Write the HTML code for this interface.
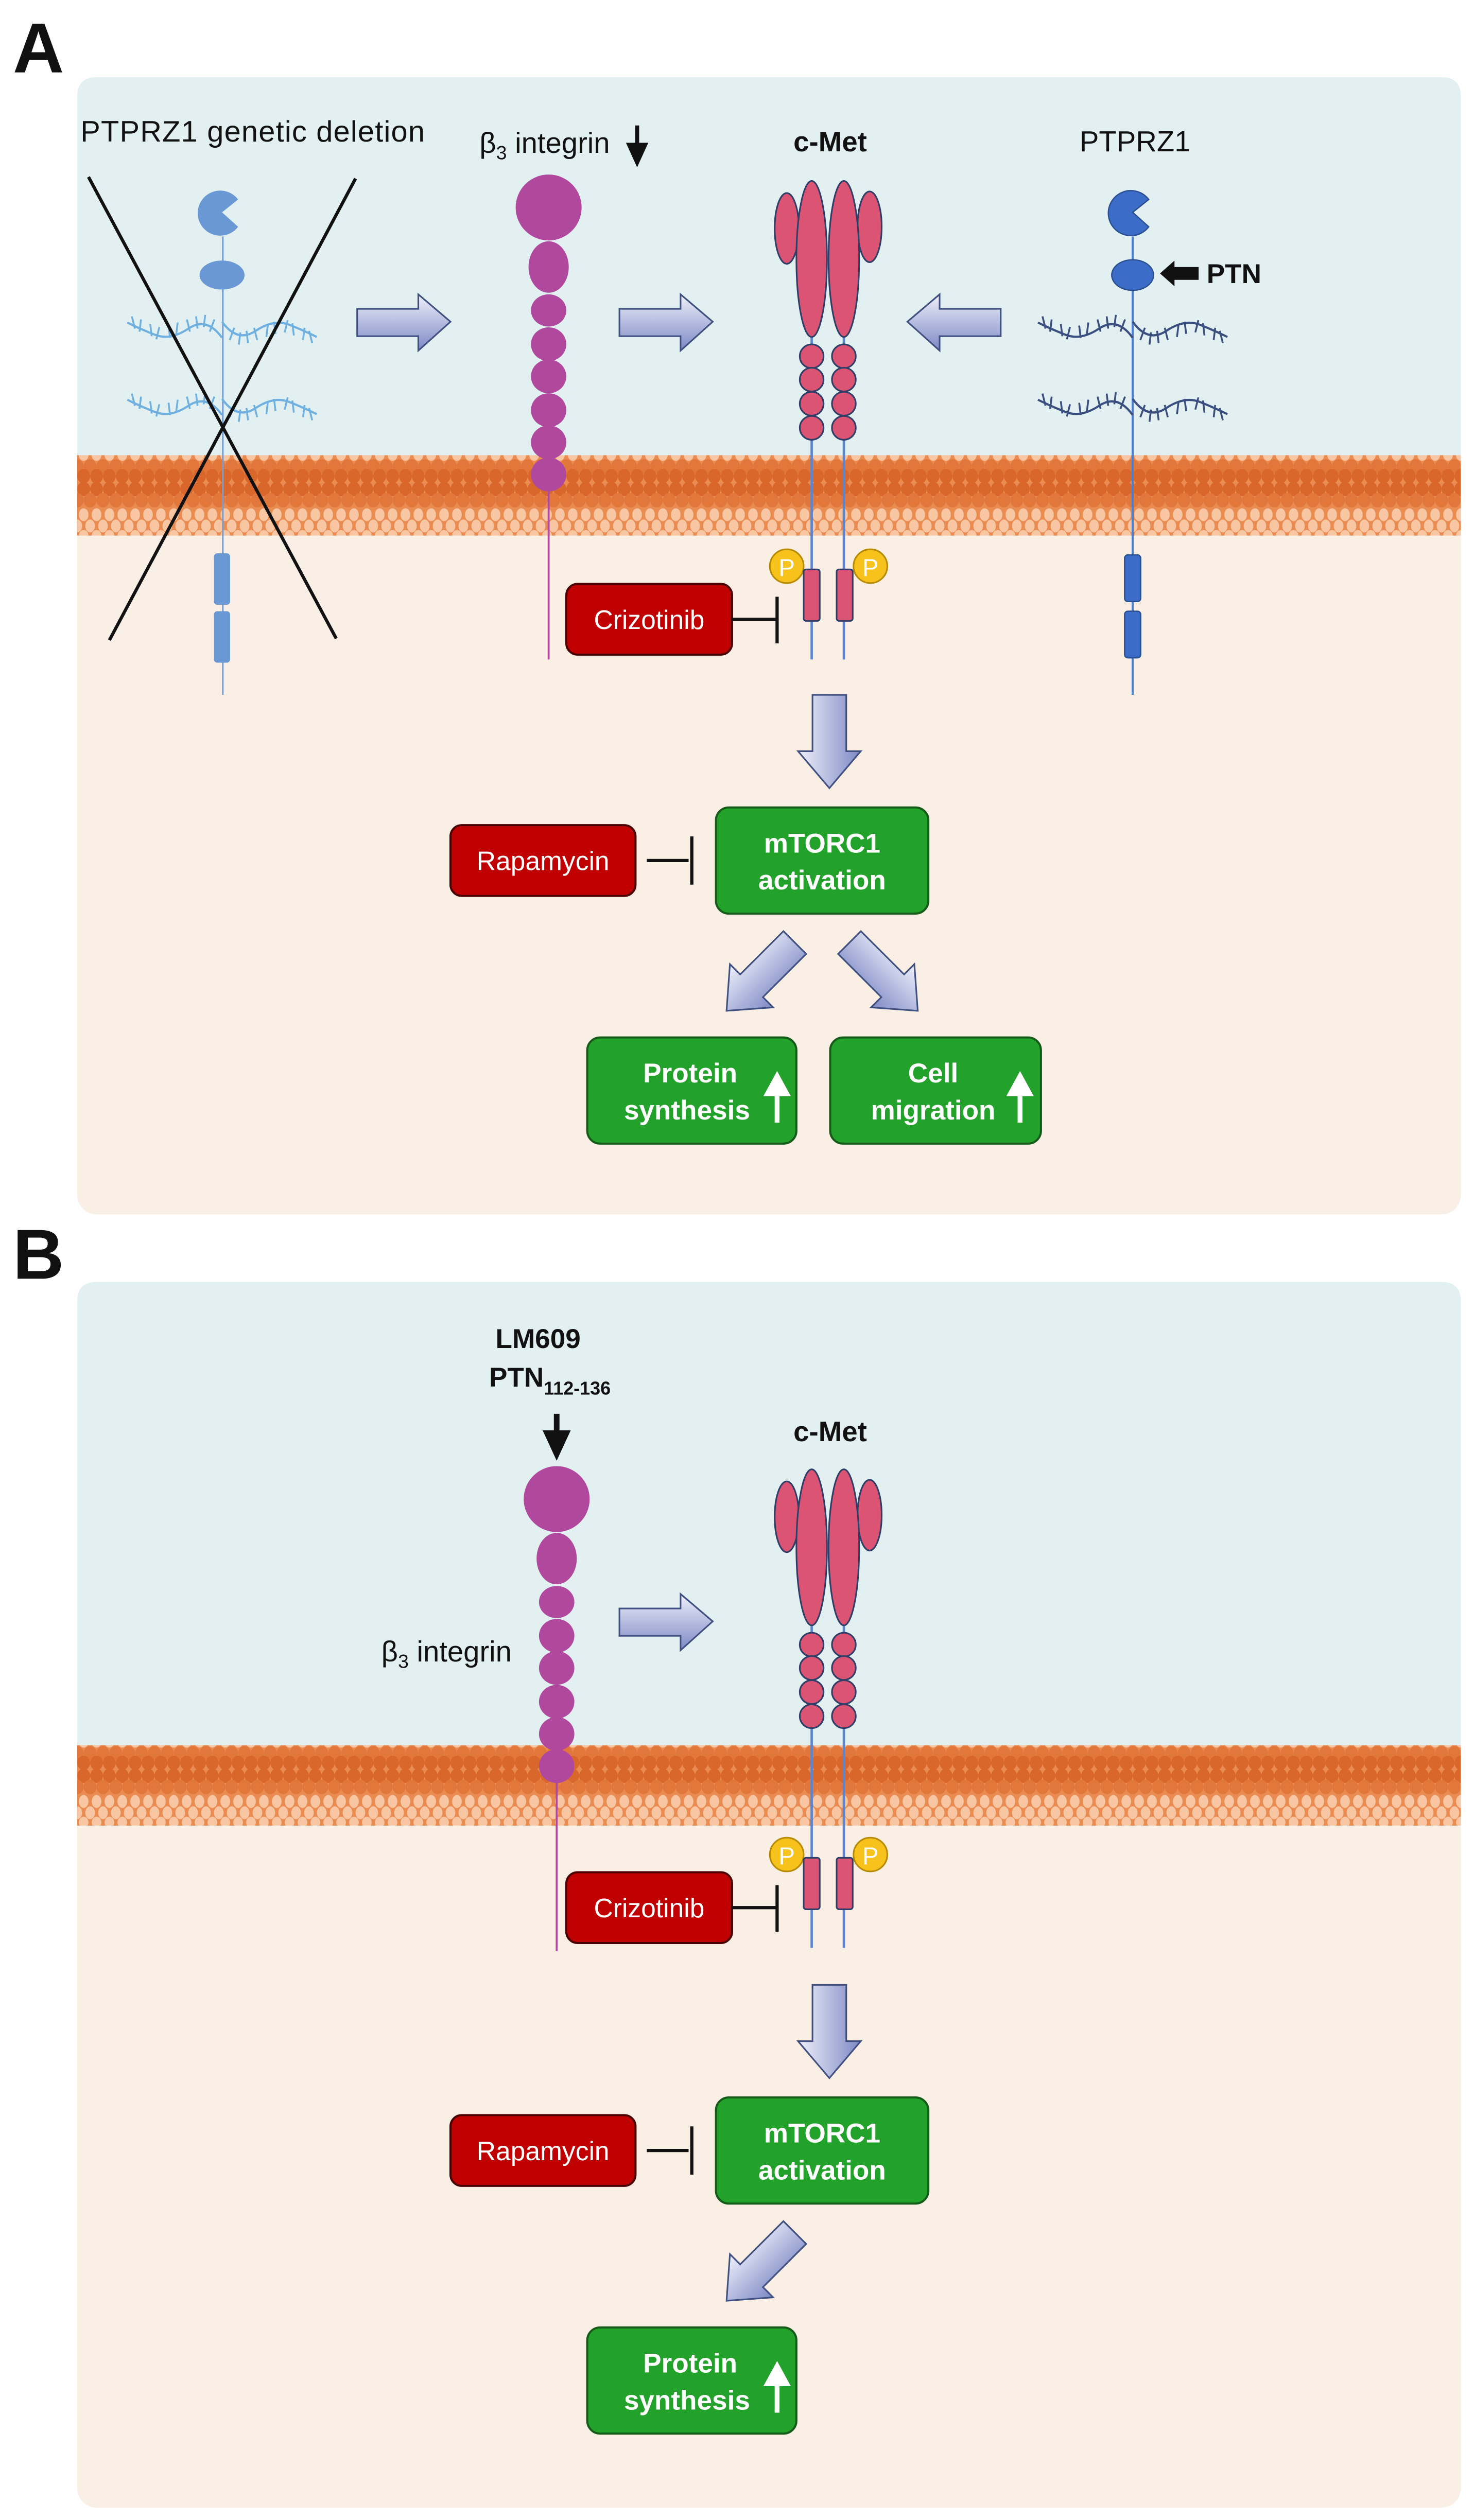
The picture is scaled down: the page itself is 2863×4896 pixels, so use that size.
<!DOCTYPE html>
<html><head><meta charset="utf-8"><style>
html,body{margin:0;padding:0;background:#fff}
svg{display:block}
text{font-family:"Liberation Sans",Arial,sans-serif}
</style></head><body>
<svg width="2863" height="4896" viewBox="0 0 916.16 1566.72" preserveAspectRatio="none" xmlns="http://www.w3.org/2000/svg">
<defs>
<linearGradient id="ag" x1="0" y1="0" x2="0" y2="1"><stop offset="0" stop-color="#eef0fb"/><stop offset="1" stop-color="#7d88c4"/></linearGradient>
<linearGradient id="aghr" x1="0" y1="0" x2="1" y2="0"><stop offset="0" stop-color="#eef0fb"/><stop offset="1" stop-color="#7d88c4"/></linearGradient>
<pattern id="mem" patternUnits="userSpaceOnUse" width="8" height="50">
<rect width="8" height="50" fill="#ea8c52"/>
<ellipse cx="4" cy="4" rx="4" ry="4.5" fill="#d9672c"/><ellipse cx="0" cy="11" rx="4" ry="4.5" fill="#e2773c"/><ellipse cx="8" cy="11" rx="4" ry="4.5" fill="#e2773c"/>
<ellipse cx="4" cy="20" rx="3" ry="4" fill="#f8c6a2"/><ellipse cx="0" cy="27" rx="3" ry="4" fill="#f8c6a2"/><ellipse cx="8" cy="27" rx="3" ry="4" fill="#f8c6a2"/><ellipse cx="4" cy="33" rx="3" ry="3.5" fill="#f8c6a2"/>
<ellipse cx="0" cy="40" rx="4" ry="4.5" fill="#e2773c"/><ellipse cx="8" cy="40" rx="4" ry="4.5" fill="#e2773c"/><ellipse cx="4" cy="46" rx="4" ry="4.5" fill="#d9672c"/>
</pattern>
<g id="chain">
<path d="M0,0 q10,-14 22,-6 t22,4 t18,-8" fill="none" stroke-width="1.4"/>
<path d="M5,-12 l3,8 M11,-15 l1,8 M17,-14 l-1,8 M23,-12 l-2,8 M29,-10 l1,8 M35,-8 l-1,8 M41,-7 l2,8 M47,-9 l-1,8 M53,-12 l1,8 M59,-14 l-2,8" fill="none" stroke-width="1.2"/>
</g>
<g id="cmet" stroke="#2e3e66" stroke-width="1">
<line x1="504.5" y1="210" x2="504.5" y2="410" stroke="#5b86cf" stroke-width="1.5"/>
<line x1="524.5" y1="210" x2="524.5" y2="410" stroke="#5b86cf" stroke-width="1.5"/>
<ellipse cx="489" cy="142" rx="7.5" ry="22" fill="#dc5473"/>
<ellipse cx="540.5" cy="141" rx="7.5" ry="22" fill="#dc5473"/>
<ellipse cx="504.5" cy="161" rx="9.5" ry="48.5" fill="#dc5473"/>
<ellipse cx="524.5" cy="161" rx="9.5" ry="48.5" fill="#dc5473"/>
<circle cx="504.5" cy="221.5" r="7.4" fill="#dc5473"/><circle cx="504.5" cy="236" r="7.4" fill="#dc5473"/><circle cx="504.5" cy="251" r="7.4" fill="#dc5473"/><circle cx="504.5" cy="266" r="7.4" fill="#dc5473"/>
<circle cx="524.5" cy="221.5" r="7.4" fill="#dc5473"/><circle cx="524.5" cy="236" r="7.4" fill="#dc5473"/><circle cx="524.5" cy="251" r="7.4" fill="#dc5473"/><circle cx="524.5" cy="266" r="7.4" fill="#dc5473"/>
<circle cx="489" cy="352" r="10.5" fill="#f7c21c" stroke="#b88a00"/>
<circle cx="541" cy="352" r="10.5" fill="#f7c21c" stroke="#b88a00"/>
<text x="489" y="358" font-size="15" fill="#fff" stroke="none" text-anchor="middle">P</text>
<text x="541" y="358" font-size="15" fill="#fff" stroke="none" text-anchor="middle">P</text>
<rect x="499.5" y="354" width="10" height="32" rx="1.5" fill="#dc5473"/>
<rect x="520" y="354" width="10" height="32" rx="1.5" fill="#dc5473"/>
<rect x="352" y="363" width="103" height="44" rx="7" fill="#c00000" stroke="#4a0000" stroke-width="1.3"/>
<text x="403.5" y="391" font-size="16.5" fill="#fff" stroke="none" text-anchor="middle">Crizotinib</text>
<path d="M455,385 H482 M483,371 V400" stroke="#111" stroke-width="2" fill="none"/>
</g>
<g id="integrin" fill="#b0489e">
<line x1="341" y1="300" x2="341" y2="410" stroke="#b0489e" stroke-width="1.2"/>
<circle cx="341" cy="129" r="20.5"/>
<ellipse cx="341" cy="166" rx="12.5" ry="16"/>
<ellipse cx="341" cy="193" rx="11" ry="10"/>
<ellipse cx="341" cy="214" rx="11" ry="10.5"/>
<ellipse cx="341" cy="234" rx="11" ry="10.5"/>
<ellipse cx="341" cy="255" rx="11" ry="10.5"/>
<ellipse cx="341" cy="275" rx="11" ry="10.5"/>
<ellipse cx="341" cy="295" rx="11" ry="10.5"/>
</g>
<g id="rarrow"><path d="M0,9 H38 V0 L58,17 L38,35 V26 H0 Z" fill="url(#ag)" stroke="#3f4f80" stroke-width="1"/></g>
<g id="darrow"><path d="M9,0 H30 V35 H39 L19.5,58 L0,35 H9 Z" fill="url(#aghr)" stroke="#3f4f80" stroke-width="1"/></g>
<g id="mtor">
<rect x="445" y="502" width="132" height="66" rx="8" fill="#22a22a" stroke="#145a18" stroke-width="1.3"/>
<text x="511" y="530" font-size="17" font-weight="bold" fill="#fff" text-anchor="middle">mTORC1</text>
<text x="511" y="553" font-size="17" font-weight="bold" fill="#fff" text-anchor="middle">activation</text>
<rect x="280" y="513" width="115" height="44" rx="7" fill="#c00000" stroke="#4a0000" stroke-width="1.3"/>
<text x="337.5" y="541" font-size="16.5" fill="#fff" text-anchor="middle">Rapamycin</text>
<path d="M402,535 H428 M430,520 V550" stroke="#111" stroke-width="2" fill="none"/>
<use href="#darrow" x="496" y="432"/>
<g transform="translate(494,586) rotate(45)"><path d="M-10,0 H10 V38 H19 L0,60 L-19,38 H-10 Z" fill="url(#aghr)" stroke="#3f4f80" stroke-width="1"/></g>
<rect x="365" y="645" width="130" height="66" rx="8" fill="#22a22a" stroke="#145a18" stroke-width="1.3"/>
<text x="429" y="673" font-size="17" font-weight="bold" fill="#fff" text-anchor="middle">Protein</text>
<text x="427" y="696" font-size="17" font-weight="bold" fill="#fff" text-anchor="middle">synthesis</text>
<path d="M483,698 V674 M477,680 L483,669 L489,680 Z" stroke="#fff" stroke-width="3" fill="#fff"/>
</g>
</defs>

<text x="8" y="45" font-size="44" font-weight="bold" fill="#111">A</text>
<text x="8" y="795" font-size="44" font-weight="bold" fill="#111">B</text>

<rect x="48" y="48" width="860" height="707" rx="12" fill="#faefe4"/>
<path d="M60,48 H896 Q908,48 908,60 V290 H48 V60 Q48,48 60,48 Z" fill="#e2f0f2"/>
<rect x="48" y="283" width="860" height="50" fill="url(#mem)"/>

<g fill="none">
<line x1="138.5" y1="147" x2="138.5" y2="432" stroke="#6f9fdc" stroke-width="1"/>
<use href="#chain" transform="translate(138,210) scale(-0.95,0.95)" stroke="#6fb0e0"/>
<use href="#chain" transform="translate(138,200) scale(0.95,-0.95)" stroke="#6fb0e0"/>
<use href="#chain" transform="translate(138,258) scale(-0.95,0.95)" stroke="#6fb0e0"/>
<use href="#chain" transform="translate(138,248) scale(0.95,-0.95)" stroke="#6fb0e0"/>
</g>
<path d="M138,132 L148,124 A14,14 0 1 0 148,141 Z" fill="#6a98d4"/>
<ellipse cx="138" cy="171" rx="14" ry="9" fill="#6a98d4"/>
<rect x="133" y="344" width="10" height="32" rx="2" fill="#6a98d4"/>
<rect x="133" y="380" width="10" height="32" rx="2" fill="#6a98d4"/>
<path d="M55,110 L209,397 M221,111 L68,398" stroke="#111" stroke-width="2"/>
<text x="50" y="88" font-size="18.5" fill="#111" textLength="214">PTPRZ1 genetic deletion</text>

<use href="#rarrow" x="222" y="183"/>
<use href="#rarrow" x="385" y="183"/>
<g transform="translate(622,183) scale(-1,1)"><use href="#rarrow"/></g>

<text x="298" y="95" font-size="18" fill="#111">β<tspan font-size="12" dy="4">3</tspan><tspan dy="-4"> integrin</tspan></text>
<path d="M396,78 V92 M391,90 L396,101 L401,90 Z" stroke="#111" stroke-width="2.5" fill="#111"/>
<use href="#integrin"/>

<text x="516" y="94" font-size="17.5" font-weight="bold" fill="#111" text-anchor="middle">c-Met</text>
<use href="#cmet"/>

<text x="671" y="94" font-size="18" fill="#111">PTPRZ1</text>
<line x1="704" y1="147" x2="704" y2="432" stroke="#4a7fd0" stroke-width="1.3"/>
<g stroke="#3a4f7f" fill="none">
<use href="#chain" transform="translate(704,210) scale(-0.95,0.95)"/>
<use href="#chain" transform="translate(704,200) scale(0.95,-0.95)"/>
<use href="#chain" transform="translate(704,258) scale(-0.95,0.95)"/>
<use href="#chain" transform="translate(704,248) scale(0.95,-0.95)"/>
</g>
<path d="M704,132 L714,124 A14,14 0 1 0 714,141 Z" fill="#3a6cc8" stroke="#2a4f90" stroke-width="0.8"/>
<ellipse cx="704" cy="171" rx="13" ry="9.5" fill="#3a6cc8" stroke="#2a4f90" stroke-width="0.8"/>
<path d="M721,170 L730,162 V166 H745 V174 H730 V178 Z" fill="#111"/>
<text x="750" y="176" font-size="17" font-weight="bold" fill="#111">PTN</text>
<rect x="699" y="345" width="10" height="29" rx="2" fill="#3a6cc8" stroke="#2a4f90" stroke-width="0.8"/>
<rect x="699" y="380" width="10" height="29" rx="2" fill="#3a6cc8" stroke="#2a4f90" stroke-width="0.8"/>

<use href="#mtor"/>
<g transform="translate(528,586) scale(-1,1) rotate(45)"><path d="M-10,0 H10 V38 H19 L0,60 L-19,38 H-10 Z" fill="url(#aghr)" stroke="#3f4f80" stroke-width="1"/></g>
<rect x="516" y="645" width="131" height="66" rx="8" fill="#22a22a" stroke="#145a18" stroke-width="1.3"/>
<text x="580" y="673" font-size="17" font-weight="bold" fill="#fff" text-anchor="middle">Cell</text>
<text x="580" y="696" font-size="17" font-weight="bold" fill="#fff" text-anchor="middle">migration</text>
<path d="M634,698 V674 M628,680 L634,669 L640,680 Z" stroke="#fff" stroke-width="3" fill="#fff"/>

<rect x="48" y="797" width="860" height="762" rx="12" fill="#faefe4"/>
<path d="M60,797 H896 Q908,797 908,809 V1090 H48 V809 Q48,797 60,797 Z" fill="#e2f0f2"/>
<rect x="48" y="1085" width="860" height="50" fill="url(#mem)"/>

<text x="308" y="838" font-size="17" font-weight="bold" fill="#111">LM609</text>
<text x="304" y="862" font-size="17" font-weight="bold" fill="#111">PTN<tspan font-size="11.5" dy="5">112-136</tspan></text>
<path d="M346,879 V893 M340,891 L346,904 L352,891 Z" stroke="#111" stroke-width="3.5" fill="#111"/>
<use href="#integrin" transform="translate(5,803)"/>
<text x="237" y="1033" font-size="18" fill="#111">β<tspan font-size="12" dy="4">3</tspan><tspan dy="-4"> integrin</tspan></text>
<use href="#rarrow" x="385" y="991"/>
<text x="516" y="896" font-size="17.5" font-weight="bold" fill="#111" text-anchor="middle">c-Met</text>
<use href="#cmet" transform="translate(0,801)"/>
<use href="#mtor" transform="translate(0,802)"/>
</svg>
</body></html>
